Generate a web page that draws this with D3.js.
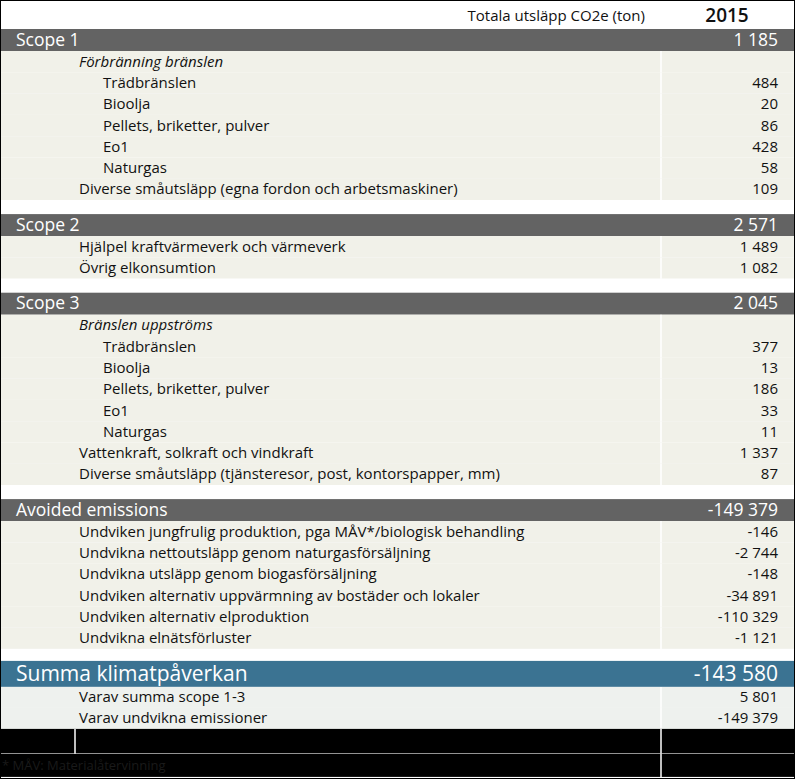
<!DOCTYPE html><html><head><meta charset="utf-8"><script src="https://cdn.jsdelivr.net/npm/d3@7"></script>
<style>body{margin:0;background:#fff}text{font-family:"Open Sans",sans-serif}</style></head><body><svg id="c" width="795" height="779"></svg>
<script>
const yearLabel="2015", headerLabel="Totala utsläpp CO2e (ton)";
const sectionNames=["Scope 1","Scope 2","Scope 3","Avoided emissions"];
const sectionTotals=["1 185","2 571","2 045","-149 379"];
const scope1Labels=["Förbränning bränslen","Trädbränslen","Bioolja","Pellets, briketter, pulver","Eo1","Naturgas","Diverse småutsläpp (egna fordon och arbetsmaskiner)"];
const scope1Values=["","484","20","86","428","58","109"];
const scope1Levels=[1,2,2,2,2,2,1];
const scope2Labels=["Hjälpel kraftvärmeverk och värmeverk","Övrig elkonsumtion"];
const scope2Values=["1 489","1 082"];
const scope2Levels=[1,1];
const scope3Labels=["Bränslen uppströms","Trädbränslen","Bioolja","Pellets, briketter, pulver","Eo1","Naturgas","Vattenkraft, solkraft och vindkraft","Diverse småutsläpp (tjänsteresor, post, kontorspapper, mm)"];
const scope3Values=["","377","13","186","33","11","1 337","87"];
const scope3Levels=[1,2,2,2,2,2,1,1];
const avoidedLabels=["Undviken jungfrulig produktion, pga MÅV*/biologisk behandling","Undvikna nettoutsläpp genom naturgasförsäljning","Undvikna utsläpp genom biogasförsäljning","Undviken alternativ uppvärmning av bostäder och lokaler","Undviken alternativ elproduktion","Undvikna elnätsförluster"];
const avoidedValues=["-146","-2 744","-148","-34 891","-110 329","-1 121"];
const avoidedLevels=[1,1,1,1,1,1];
const sumLabel="Summa klimatpåverkan", sumValue="-143 580";
const sumLabels=["Varav summa scope 1-3","Varav undvikna emissioner"];
const sumValues=["5 801","-149 379"];
const footnote="* MÅV: Materialåtervinning";

const svg=d3.select("#c");
const W=795, colX=661, rightX=778;
const x=d3.scaleOrdinal().domain([0,1,2]).range([16,79,103]);
const secL=[scope1Labels,scope2Labels,scope3Labels,avoidedLabels],secV=[scope1Values,scope2Values,scope3Values,avoidedValues],secLv=[scope1Levels,scope2Levels,scope3Levels,avoidedLevels];
const rows=[];
rows.push({type:"head",h:29});
sectionNames.forEach((n,i)=>{
 rows.push({type:"bar",label:n,value:sectionTotals[i],h:22});
 secL[i].forEach((l,j)=>rows.push({type:"row",label:l,value:secV[i][j],lv:secLv[i][j],italic:secV[i][j]==="",h:21.3}));
 rows.push({type:"gap",h:i==3?12:14});
});
rows.push({type:"sum",label:sumLabel,value:sumValue,h:26});
sumLabels.forEach((l,j)=>rows.push({type:"srow",label:l,value:sumValues[j],lv:1,h:21}));
rows.push({type:"black1",h:25});
rows.push({type:"black2",h:23});
let acc=0;rows.forEach(r=>{r.y=acc;acc+=r.h;});
const g=svg.selectAll("g.r").data(rows).join("g").attr("transform",d=>`translate(0,${d.y})`);
g.each(function(d){
 const s=d3.select(this);
 const fill={head:"#fff",bar:"#636363",row:"#f1f1e9",gap:"#fff",sum:"#3b7392",srow:"#eef1ee",black1:"#000",black2:"#000"}[d.type];
 s.append("rect").attr("x",1).attr("width",W-2).attr("height",d.h).attr("fill",fill);
 if(d.type!=="bar"&&d.type!=="sum") s.append("line").attr("x1",colX).attr("x2",colX).attr("y1",0).attr("y2",d.h).attr("stroke","#fff").attr("stroke-width",1.5);
 const big=d.type==="bar"||d.type==="sum";
 const fs=d.type==="sum"?21:big?17.5:15;
 const col=big?"#fff":"#111";
 if(d.type==="head"){
  s.append("text").attr("x",645).attr("y",21).attr("text-anchor","end").attr("font-size",15).attr("fill","#111").text(headerLabel);
  s.append("text").attr("x",727).attr("y",22).attr("text-anchor","middle").attr("font-size",19).attr("font-weight","600").attr("fill","#111").text(yearLabel);
 }
 if(d.label!==undefined){
  const yb=d.h/2+fs*0.33;
  s.append("text").attr("x",big?16:x(d.lv)).attr("y",yb).attr("font-size",fs).attr("fill",col).attr("font-style",d.italic?"italic":null).text(d.label);
  s.append("text").attr("x",rightX).attr("y",yb).attr("text-anchor","end").attr("font-size",fs).attr("fill",col).text(d.value);
 }
 if(d.type==="black1"){
  s.append("line").attr("x1",75).attr("x2",75).attr("y1",0).attr("y2",d.h).attr("stroke","#fff").attr("stroke-width",1.5);
  s.append("line").attr("x1",0).attr("x2",W).attr("y1",d.h).attr("y2",d.h).attr("stroke","#fff");
 }
 if(d.type==="black2") s.append("text").attr("x",2).attr("y",16).attr("font-size",13).attr("fill","#1a1a1a").text(footnote);
});
svg.append("rect").attr("x",0.5).attr("y",0.5).attr("width",W-1).attr("height",778).attr("fill","none").attr("stroke","#000");
</script></body></html>
